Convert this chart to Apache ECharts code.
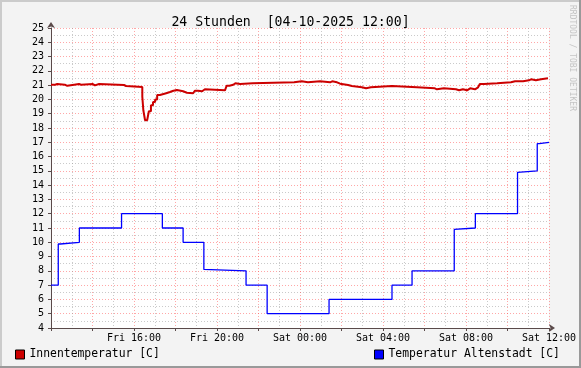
<!DOCTYPE html>
<html>
<head>
<meta charset="utf-8">
<script src="https://cdn.jsdelivr.net/npm/echarts@6/dist/echarts.min.js"></script>
<style>
html,body{margin:0;padding:0;background:#F3F3F3;}
#c{width:581px;height:368px;}
</style>
</head>
<body>
<div id="c"></div>
<script>
// minutes since Fri 12:00 where the value changes, and the value from there on
const redMinutes = [0, 12, 18, 40, 47, 67, 81, 87, 121, 127, 139, 211, 217, 264, 267, 272, 278, 283, 289, 295, 301, 307, 315, 333, 344, 354, 364, 382, 393, 411, 416, 425, 437, 445, 503, 508, 516, 527, 533, 547, 583, 703, 725, 743, 778, 807, 813, 827, 836, 859, 870, 899, 911, 925, 986, 1058, 1110, 1116, 1136, 1171, 1180, 1191, 1203, 1212, 1226, 1235, 1240, 1252, 1290, 1330, 1342, 1347, 1365, 1382, 1388, 1402, 1417, 1437];
const redValues  = [21.03, 21.08, 21.03, 20.95, 21.03, 21.08, 21.03, 21.08, 20.98, 21.08, 21.01, 20.94, 20.87, 20.2, 19.24, 18.54, 18.6, 19.17, 19.59, 19.82, 20.0, 20.31, 20.43, 20.52, 20.61, 20.66, 20.57, 20.47, 20.43, 20.52, 20.61, 20.57, 20.71, 20.64, 20.78, 20.96, 21.03, 21.13, 21.08, 21.13, 21.2, 21.27, 21.2, 21.27, 21.2, 21.27, 21.2, 21.1, 21.01, 20.94, 20.85, 20.78, 20.85, 20.94, 20.85, 20.78, 20.71, 20.78, 20.71, 20.64, 20.71, 20.64, 20.78, 20.71, 20.85, 20.99, 21.08, 21.13, 21.2, 21.27, 21.2, 21.27, 21.34, 21.41, 21.34, 21.41, 21.48, 21.48];
const blueMinutes = [0, 21, 27, 82, 204, 322, 382, 442, 446, 564, 625, 804, 986, 1044, 1166, 1171, 1227, 1349, 1353, 1406, 1412, 1440];
const blueValues  = [7, 9.88, 10, 11, 12, 11, 10, 8.1, 8, 7, 5, 6, 7, 8, 10.9, 11, 12, 14.9, 15, 16.9, 17, 17];
const tickMinutes = [240, 480, 720, 960, 1200, 1440];
const tickLabels  = ['Fri 16:00', 'Fri 20:00', 'Sat 00:00', 'Sat 04:00', 'Sat 08:00', 'Sat 12:00'];
const seriesNames = ['Innentemperatur [C]', 'Temperatur Altenstadt [C]'];
const titleText = '24 Stunden  [04-10-2025 12:00]';
const sideText = 'RRDTOOL / TOBI OETIKER';

const FONT = '"DejaVu Sans Mono", monospace';
const zip = (a, b) => a.map((v, i) => [v, b[i]]);

const chart = echarts.init(document.getElementById('c'), null, {renderer: 'canvas'});
chart.setOption({
  backgroundColor: '#F3F3F3',
  animation: false,
  title: {
    text: titleText, left: 'center', top: 11,
    textStyle: {fontFamily: FONT, fontSize: 13.2, fontWeight: 'normal', color: '#000'}
  },
  grid: {left: 51, right: 32, top: 28, bottom: 40, show: true, backgroundColor: '#FFFFFF', borderWidth: 0},
  legend: [
    {data: [seriesNames[0]], left: 10, top: 344, icon: 'rect', itemWidth: 9, itemHeight: 9, itemGap: 6,
     itemStyle: {borderColor: '#000', borderWidth: 1},
     textStyle: {fontFamily: FONT, fontSize: 11.4, color: '#000'}},
    {data: [seriesNames[1]], left: 369, top: 344, icon: 'rect', itemWidth: 9, itemHeight: 9, itemGap: 6,
     itemStyle: {borderColor: '#000', borderWidth: 1},
     textStyle: {fontFamily: FONT, fontSize: 11.4, color: '#000'}}
  ],
  xAxis: {
    type: 'value', min: 0, max: 1440, interval: 120,
    axisLine: {show: true, symbol: ['none', 'arrow'], symbolSize: [6, 6], symbolOffset: [0, 6],
               lineStyle: {color: '#5a4a4a', width: 1}},
    axisTick: {show: true, length: 3, inside: false, lineStyle: {color: '#5a4a4a'}},
    axisLabel: {
      margin: 5, fontFamily: FONT, fontSize: 10, color: '#000', showMinLabel: true, showMaxLabel: true,
      formatter: v => { const i = tickMinutes.indexOf(v); return i >= 0 ? tickLabels[i] : ''; }
    },
    splitLine: {show: true, lineStyle: {color: 'rgba(255,60,60,0.45)', type: [1, 2], width: 1}},
    minorTick: {show: false, splitNumber: 2},
    minorSplitLine: {show: true, lineStyle: {color: 'rgba(150,150,150,0.5)', type: [1, 2], width: 1}}
  },
  yAxis: {
    type: 'value', min: 4, max: 25, interval: 1,
    axisLine: {show: true, symbol: ['none', 'arrow'], symbolSize: [6, 6], symbolOffset: [0, 6],
               lineStyle: {color: '#5a4a4a', width: 1}},
    axisTick: {show: true, length: 3, lineStyle: {color: '#5a4a4a'}},
    axisLabel: {margin: 7, fontFamily: FONT, fontSize: 10, color: '#000'},
    splitLine: {show: true, lineStyle: {color: 'rgba(255,60,60,0.45)', type: [1, 2], width: 1}},
    minorTick: {show: false, splitNumber: 2},
    minorSplitLine: {show: true, lineStyle: {color: 'rgba(150,150,150,0.5)', type: [1, 2], width: 1}}
  },
  series: [
    {name: seriesNames[0], type: 'line', step: 'end', showSymbol: false, color: '#CC0000',
     lineStyle: {color: '#CC0000', width: 2}, data: zip(redMinutes, redValues)},
    {name: seriesNames[1], type: 'line', step: 'end', showSymbol: false, color: '#0000FF',
     lineStyle: {color: '#0000FF', width: 1.3}, data: zip(blueMinutes, blueValues)}
  ],
  graphic: [
    {type: 'rect', left: 0, top: 0, shape: {width: 581, height: 2}, style: {fill: '#CBCBCB'}, silent: true},
    {type: 'rect', left: 0, top: 0, shape: {width: 2, height: 368}, style: {fill: '#CBCBCB'}, silent: true},
    {type: 'rect', left: 0, top: 366, shape: {width: 581, height: 2}, style: {fill: '#999999'}, silent: true},
    {type: 'rect', left: 579, top: 0, shape: {width: 2, height: 368}, style: {fill: '#999999'}, silent: true},
    {type: 'text', x: 568, y: 5, rotation: -Math.PI / 2,
     style: {text: sideText, font: '8px ' + FONT, fill: '#C4C4C4', textAlign: 'left', textVerticalAlign: 'bottom'}, silent: true}
  ]
});
</script>
</body>
</html>
